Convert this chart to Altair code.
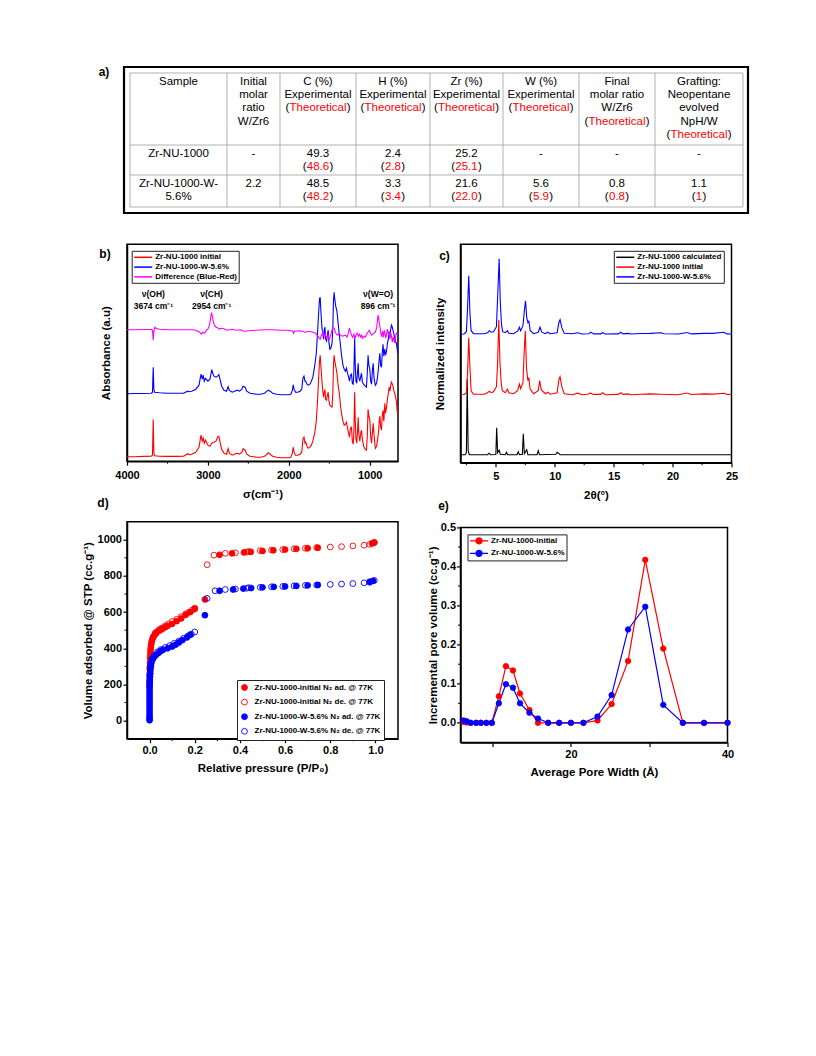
import altair as alt
import pandas as pd

FONT = "Liberation Sans"
RED, BLUE, MAGENTA, BLACK = "#ff0000", "#0000ff", "#ff00ff", "#000000"

# ---------------- (a) table content ----------------
TABLE_HEADER = [
    ["Sample"],
    ["Initial", "molar", "ratio", "W/Zr6"],
    ["C (%)", "Experimental", "(Theoretical)"],
    ["H (%)", "Experimental", "(Theoretical)"],
    ["Zr (%)", "Experimental", "(Theoretical)"],
    ["W (%)", "Experimental", "(Theoretical)"],
    ["Final", "molar ratio", "W/Zr6", "(Theoretical)"],
    ["Grafting:", "Neopentane", "evolved", "NpH/W", "(Theoretical)"],
]
TABLE_ROW1 = [["Zr-NU-1000"], ["-"], ["49.3", "(48.6)"], ["2.4", "(2.8)"], ["25.2", "(25.1)"], ["-"], ["-"], ["-"]]
TABLE_ROW2 = [["Zr-NU-1000-W-", "5.6%"], ["2.2"], ["48.5", "(48.2)"], ["3.3", "(3.4)"], ["21.6", "(22.0)"],
              ["5.6", "(5.9)"], ["0.8", "(0.8)"], ["1.1", "(1)"]]

# ---------------- (b) FTIR ----------------
B_NAMES = ["Zr-NU-1000 initial", "Zr-NU-1000-W-5.6%", "Difference (Blue-Red)"]
B_WN = [4000, 3900, 3800, 3700, 3685, 3676, 3668, 3660, 3600, 3500,
        3400, 3300, 3250, 3230, 3200, 3150, 3110, 3085, 3070, 3058,
        3045, 3030, 3000, 2975, 2960, 2952, 2940, 2925, 2900, 2880,
        2865, 2850, 2830, 2800, 2770, 2750, 2735, 2700, 2670, 2640,
        2610, 2580, 2565, 2540, 2520, 2480, 2440, 2400, 2350, 2300,
        2270, 2255, 2230, 2200, 2150, 2100, 2050, 2000, 1975, 1955,
        1946, 1935, 1917, 1890, 1860, 1840, 1825, 1812, 1800, 1790,
        1775, 1760, 1740, 1720, 1700, 1680, 1660, 1645, 1630, 1620,
        1612, 1603, 1590, 1580, 1570, 1560, 1553, 1545, 1533, 1525,
        1513, 1503, 1492, 1480, 1465, 1455, 1448, 1440, 1432, 1420,
        1405, 1390, 1375, 1360, 1345, 1330, 1315, 1300, 1287, 1275,
        1260, 1250, 1238, 1225, 1215, 1204, 1195, 1186, 1178, 1170,
        1160, 1150, 1142, 1135, 1122, 1110, 1101, 1090, 1075, 1055,
        1040, 1030, 1020, 1010, 998, 988, 977, 965, 957, 945,
        930, 915, 903, 890, 880, 874, 865, 854, 845, 835,
        825, 813, 803, 792, 780, 770, 760, 750, 740, 730,
        720, 710, 700, 690, 681, 670, 660, 653]
B_RED = [4.5, 4.5, 4.8, 5, 6, 41.7, 8, 5.5, 5, 4.8,
         4.8, 5, 7.5, 6.5, 7, 9, 14, 26, 20, 23,
         18, 21, 16, 15, 17, 18, 18.5, 19, 20, 24,
         25, 19, 12, 8, 7, 12.7, 8, 6, 7, 8,
         7, 9, 12.5, 11, 7, 5, 4.5, 4, 4, 5,
         7, 8.5, 7, 5, 4, 3.5, 3.5, 3.5, 4, 8,
         14, 9, 6, 6, 7, 9, 22, 24, 18, 19,
         15, 13, 14, 16, 21, 28, 40, 60, 85, 100,
         106, 95, 80, 70, 64, 70, 71, 62, 61, 65,
         69, 60, 56, 55, 54, 70, 95, 106, 100, 95,
         88, 76, 68, 55, 46, 40, 36, 37, 39, 33,
         28, 24, 33, 34, 20, 17, 30, 69, 40, 22,
         18, 30, 44, 28, 20, 28, 31, 22, 15, 12,
         11, 25, 52, 45, 41, 25, 18, 30, 38, 25,
         13, 15, 21, 30, 42, 45, 35, 31, 45, 51,
         40, 58, 48, 54, 62, 68, 74, 70, 76, 79,
         77, 74, 70, 68, 64, 60, 50, 47]
B_BLUE = [67.5, 67.7, 67.7, 68, 69, 94, 72, 69, 68.5, 68,
          68, 68, 70, 69.5, 70, 72, 76, 87, 82, 86,
          80, 83, 80, 82, 88, 91.5, 88, 85, 84, 85,
          86.5, 82, 75, 71, 70, 74.5, 71, 69, 70, 71,
          70, 72, 75, 74, 70, 68, 67.5, 67, 67, 68,
          70, 71, 70, 68, 67, 66.5, 66.5, 66.5, 67, 71,
          76.5, 72, 69, 69, 70, 72, 83, 85, 80, 80,
          77, 76, 77, 80, 85, 95, 108, 128, 150, 162,
          164, 150, 133, 128, 122, 132, 134, 122, 120, 125,
          131, 118, 112, 113, 118, 135, 160, 169, 162, 155,
          150, 138, 126, 115, 104, 96, 92, 90, 93, 88,
          84, 80, 86, 87, 78, 77, 90, 124, 96, 80,
          78, 90, 98, 84, 80, 85, 88, 79, 77, 75,
          74, 88, 106, 96, 92, 80, 77, 92, 98, 82,
          76, 78, 84, 95, 104, 108, 96, 94, 108, 117,
          105, 112, 106, 110, 118, 122, 128, 124, 132, 136,
          134, 130, 127, 123, 120, 118, 112, 108]
M_WN = [4000, 3900, 3800, 3700, 3685, 3676, 3668, 3655, 3640, 3600,
        3500, 3400, 3300, 3200, 3150, 3100, 3080, 3060, 3040, 3020,
        3000, 2980, 2965, 2954, 2945, 2935, 2920, 2900, 2880, 2860,
        2840, 2800, 2760, 2700, 2650, 2600, 2550, 2500, 2400, 2300,
        2200, 2100, 2000, 1950, 1940, 1930, 1850, 1800, 1750, 1700,
        1670, 1650, 1630, 1612, 1600, 1590, 1580, 1565, 1550, 1530,
        1515, 1500, 1485, 1470, 1455, 1440, 1425, 1410, 1395, 1380,
        1360, 1340, 1320, 1300, 1280, 1265, 1250, 1240, 1225, 1210,
        1195, 1183, 1170, 1155, 1140, 1125, 1110, 1100, 1085, 1070,
        1055, 1040, 1020, 1005, 990, 975, 960, 945, 930, 915,
        905, 896, 888, 880, 870, 860, 850, 840, 830, 820,
        810, 800, 790, 780, 770, 760, 750, 740, 730, 720,
        710, 700, 690, 680, 670, 660, 653]
M_DIFF = [131.5, 131.5, 131.7, 131.7, 131, 121, 130, 134, 133, 132,
          131.5, 131.5, 131.5, 131.5, 131, 129, 127, 129, 128, 131,
          132, 136, 144, 148.5, 145, 140, 136, 134, 133.5, 132,
          133, 132.5, 131, 132, 131, 131.5, 130, 130.5, 131, 131.5,
          131.5, 131, 131, 130, 128, 130, 130.5, 129, 130, 129,
          128, 126, 124, 122, 125, 127, 129, 125, 127, 123,
          126, 122, 125, 130, 133.5, 133, 129, 127, 126, 128,
          126, 125, 125.5, 126, 124, 128, 133, 130, 126, 124,
          127, 123, 126, 128, 125, 127, 124, 126, 123, 125,
          124, 127, 129, 131, 128, 126, 127, 128, 129, 133,
          140, 146, 143, 137, 133, 127, 125, 130, 124, 131,
          127, 123, 128, 132, 127, 130, 122, 128, 125, 119,
          124, 121, 118, 124, 128, 127, 126]
B_ANN_WN = [3674, 2954, 896]
B_ANN_L1 = ["ν(OH)", "ν(CH)", "ν(W=O)"]
B_ANN_L2 = ["3674 cm⁻¹", "2954 cm⁻¹", "896 cm⁻¹"]

# ---------------- (c) XRD ----------------
C_NAMES = ["Zr-NU-1000 calculated", "Zr-NU-1000 initial", "Zr-NU-1000-W-5.6%"]
C_CALC_X = [2.0, 2.4, 2.5, 2.57, 2.65, 2.75, 4.3, 4.42, 4.55, 5.0, 5.07, 5.15, 5.28, 5.38, 5.8, 5.9, 6.0,
            6.8, 6.9, 7.0, 7.25, 7.33, 7.42, 7.62, 7.72, 8.5, 8.6, 8.7, 10.1, 10.2, 10.33, 10.45, 25.0]
C_CALC_Y = [8, 8, 10, 83.5, 12, 8, 8, 9.5, 8, 8.2, 35, 10, 12.5, 8.5, 8, 10.5, 8,
            8, 11, 8, 8.5, 29, 9, 13, 8, 8, 12, 8, 8.5, 10.5, 9.5, 8, 8]
C_INIT_X = [2.0, 2.3, 2.5, 2.6, 2.7, 2.8, 2.9, 3.1, 4.0, 4.3,
            4.45, 4.6, 4.8, 5.05, 5.15, 5.25, 5.35, 5.45, 5.55, 5.8,
            5.98, 6.1, 6.5, 6.85, 7.0, 7.1, 7.3, 7.4, 7.5, 7.6,
            7.72, 7.8, 7.9, 8.2, 8.6, 8.72, 8.85, 9.2, 9.4, 9.6,
            10.2, 10.35, 10.45, 10.6, 10.8, 11.5, 11.95, 12.3, 12.8, 13.0,
            13.3, 13.9, 14.05, 14.3, 15.4, 15.6, 15.8, 16.2, 16.5, 17.3,
            18.1, 19.0, 20.5, 21.1, 21.3, 21.6, 22.7, 23.4, 24.4, 24.6, 25.0]
C_INIT_Y = [68, 68.2, 70, 90, 125, 95, 72, 68.5, 68.5, 70,
            71.5, 70, 71, 76, 100, 143, 100, 80, 72, 70,
            73.5, 70, 69, 72, 78.5, 74, 80, 110, 132, 95,
            82, 85, 74, 69, 72, 82, 73, 69, 70.5, 68.5,
            70, 83, 86, 76, 69, 68, 69.5, 68, 68.5, 69.5,
            68.3, 68.3, 70, 68, 68.3, 70, 68.3, 68.8, 68, 68.5,
            68.8, 68.5, 68, 69.5, 69.5, 68.2, 68.8, 68.6, 69.5, 68.3, 68.2]
C_W_X = [2.0, 2.3, 2.5, 2.6, 2.7, 2.8, 2.9, 3.1, 4.0, 4.3,
         4.45, 4.6, 4.8, 5.05, 5.15, 5.28, 5.38, 5.48, 5.58, 5.8,
         5.98, 6.1, 6.5, 6.85, 7.0, 7.1, 7.3, 7.42, 7.52, 7.62,
         7.72, 7.8, 7.92, 8.2, 8.6, 8.75, 8.9, 9.2, 9.4, 9.6,
         10.2, 10.35, 10.45, 10.6, 10.8, 11.5, 11.95, 12.3, 12.9, 13.05,
         13.3, 13.9, 14.05, 14.3, 15.4, 15.6, 15.8, 16.2, 16.5, 17.3,
         18.1, 19.0, 19.3, 20.5, 21.1, 21.3, 21.6, 22.7, 23.4, 24.35, 24.6, 25.0]
C_W_Y = [128.5, 128.7, 131, 155, 187, 150, 132, 129, 129, 130,
         132, 130.5, 131, 136, 165, 204, 160, 138, 131, 130,
         132, 129.5, 129, 131.5, 135.5, 132, 137, 152, 162, 145,
         140, 141.5, 132, 129, 130.5, 135.5, 130.5, 129, 130.5, 129,
         130, 140, 143, 135, 129.5, 129, 130, 128.7, 129, 130.5,
         128.8, 128.8, 130, 128.7, 128.8, 130.5, 128.8, 129.3, 128.7, 129.2,
         129.3, 130, 129, 128.7, 130, 130, 128.8, 129.3, 129.3, 130.5, 128.8, 128.7]

# ---------------- (d) N2 isotherms ----------------
D_NAMES = ["Zr-NU-1000-initial N₂ ad. @ 77K", "Zr-NU-1000-initial N₂ de. @ 77K",
           "Zr-NU-1000-W-5.6% N₂ ad. @ 77K", "Zr-NU-1000-W-5.6% N₂ de. @ 77K"]
D_IA_P = [0.000, 0.001, 0.001, 0.002, 0.002, 0.003, 0.004, 0.005, 0.006, 0.008,
          0.010, 0.013, 0.016, 0.020, 0.025, 0.030, 0.040, 0.050, 0.060, 0.070,
          0.080, 0.100, 0.120, 0.140, 0.160, 0.180, 0.200, 0.245, 0.310, 0.365,
          0.418, 0.448, 0.500, 0.548, 0.600, 0.650, 0.700, 0.745, 0.985, 0.995]
D_IA_V = [210, 240, 290, 320, 345, 365, 385, 400, 415, 428,
          440, 452, 462, 470, 478, 485, 495, 503, 510, 518,
          524, 535, 550, 565, 585, 600, 618, 670, 917, 925,
          930, 933, 938, 942, 946, 950, 953, 956, 980, 985]
D_ID_P = [0.995, 0.975, 0.950, 0.900, 0.850, 0.800, 0.740, 0.690, 0.640, 0.590,
          0.540, 0.490, 0.440, 0.430, 0.380, 0.335, 0.285, 0.255, 0.200, 0.190,
          0.175, 0.160, 0.140, 0.120, 0.100, 0.085, 0.070, 0.055, 0.045, 0.035,
          0.025, 0.002, 0.001]
D_ID_V = [985, 975, 970, 966, 962, 960, 957, 953, 950, 946,
          943, 940, 935, 932, 928, 925, 915, 862, 622, 612,
          600, 590, 575, 560, 548, 535, 525, 512, 505, 495,
          485, 300, 260]
D_WA_P = [0.000, 0.000, 0.000, 0.000, 0.000, 0.000, 0.000, 0.000, 0.000, 0.000,
          0.000, 0.000, 0.000, 0.000, 0.000, 0.001, 0.001, 0.002, 0.003, 0.003,
          0.004, 0.006, 0.008, 0.012, 0.016, 0.022, 0.030, 0.040, 0.050, 0.060,
          0.080, 0.100, 0.115, 0.130, 0.145, 0.165, 0.180, 0.245, 0.310, 0.370,
          0.415, 0.450, 0.500, 0.550, 0.600, 0.650, 0.700, 0.745, 0.975, 0.990]
D_WA_V = [2, 10, 20, 35, 50, 65, 80, 95, 110, 125,
          140, 155, 170, 185, 200, 215, 230, 245, 260, 275,
          290, 305, 320, 335, 345, 355, 365, 375, 385, 392,
          400, 410, 420, 432, 445, 460, 475, 583, 718, 725,
          730, 733, 737, 740, 742, 745, 748, 750, 768, 773]
D_WD_P = [0.995, 0.975, 0.950, 0.900, 0.850, 0.800, 0.740, 0.690, 0.640, 0.590,
          0.540, 0.490, 0.440, 0.430, 0.380, 0.335, 0.290, 0.255, 0.200, 0.185,
          0.170, 0.150, 0.130, 0.110, 0.090, 0.070, 0.050, 0.035, 0.020, 0.010,
          0.005, 0.003, 0.002, 0.000, 0.000, 0.000]
D_WD_V = [775, 765, 762, 758, 755, 753, 750, 748, 745, 742,
          740, 737, 735, 732, 728, 725, 718, 676, 490, 478,
          468, 455, 440, 428, 415, 405, 393, 380, 360, 340,
          320, 300, 280, 250, 220, 190]

# ---------------- (e) pore size distribution ----------------
E_NAMES = ["Zr-NU-1000-initial", "Zr-NU-1000-W-5.6%"]
E_WIDTH = [6.3, 6.7, 7.2, 7.9, 8.5, 9.2, 9.9, 10.8, 11.7, 12.6, 13.5, 14.7, 15.8,
           17.1, 18.5, 20.0, 21.6, 23.4, 25.2, 27.3, 29.5, 31.8, 34.3, 37.0, 40.0]
E_INIT = [0.002, 0.001, 0.0, 0.0, 0.0, 0.0, 0.0, 0.068, 0.145, 0.134, 0.075, 0.033, 0.0,
          0.0, 0.0, 0.0, 0.0, 0.006, 0.048, 0.158, 0.417, 0.19, 0.0, 0.0, 0.0]
E_W56 = [0.006, 0.004, 0.0, 0.0, 0.0, 0.0, 0.0, 0.05, 0.099, 0.09, 0.05, 0.026, 0.011,
         0.0, 0.0, 0.0, 0.0, 0.016, 0.071, 0.239, 0.297, 0.046, 0.0, 0.0, 0.0]


def series_df(xs, ys, name):
    return pd.DataFrame([{"x": a, "y": b, "s": name} for a, b in zip(xs, ys)])


def anchor(x, y):
    # white (invisible on the white page) element that fixes a panel's layout bounds
    return alt.Chart(pd.DataFrame({"k": [0]})).mark_rule(color="white", strokeWidth=1).encode(
        x=alt.value(x), x2=alt.value(x + 1), y=alt.value(y), y2=alt.value(y))


def panel_label(txt, x, y):
    return alt.Chart(pd.DataFrame({"t": [txt]})).mark_text(
        fontSize=12, fontWeight="bold", font=FONT, color="black").encode(
        x=alt.value(x), y=alt.value(y), text="t:N")


def minor_x(values, X, h):
    return alt.Chart(pd.DataFrame({"x": values})).mark_rule(color="black", strokeWidth=1).encode(
        x=X, y=alt.value(h), y2=alt.value(h + 2.5))


def minor_y(values, Y):
    return alt.Chart(pd.DataFrame({"y": values})).mark_rule(color="black", strokeWidth=1).encode(
        y=Y, x=alt.value(0), x2=alt.value(-2.5))


def line_legend(x, y, size=8):
    return alt.Legend(title=None, orient="none", legendX=x, legendY=y,
                      symbolType="M-1,0L3.5,0", symbolSize=64, symbolStrokeWidth=1.5,
                      labelFont=FONT, labelFontSize=size, labelFontWeight="bold", labelColor="black",
                      labelOffset=12, padding=1.5, rowPadding=0.8,
                      fillColor="white", strokeColor="#222222")


# ================= (a) table chart =================
T_W, T_H = 624, 146
T_SHIFT = 3          # table frame starts 3 px left of the plot column below it
T_COLS = [6, 103, 156, 232, 306, 379, 455, 531, 619]
T_ROWS = [6, 78, 108, 140]
T_LINE_GAP = 13.4
T_FIRST = 8.6
T_FONT_SIZE = 11.5
# advance widths of Liberation Sans (per 1000 em) used to place the black brackets
GLYPH_W = {"T": 611, "h": 556, "e": 556, "o": 556, "r": 333, "t": 278, "i": 222,
           "c": 500, "a": 556, "l": 222, ".": 278}


def text_width(s):
    return sum(GLYPH_W.get(ch, 556) for ch in s) * T_FONT_SIZE / 1000.0


black_txt, red_txt, lpar, rpar = [], [], [], []
for r, row in enumerate([TABLE_HEADER, TABLE_ROW1, TABLE_ROW2]):
    for c, cell in enumerate(row):
        cx = (T_COLS[c] + T_COLS[c + 1]) / 2
        for i, line in enumerate(cell):
            cy = T_ROWS[r] + T_FIRST + i * T_LINE_GAP
            if line.startswith("(") and line.endswith(")") and len(line) > 2:
                inner = line[1:-1]
                half = text_width(inner) / 2
                red_txt.append({"x": cx, "y": cy, "t": inner})
                lpar.append({"x": cx - half - 0.3, "y": cy, "t": "("})
                rpar.append({"x": cx + half + 0.3, "y": cy, "t": ")"})
            else:
                black_txt.append({"x": cx, "y": cy, "t": line})

grid = ([{"x": v, "x2": v, "y": T_ROWS[0], "y2": T_ROWS[-1]} for v in T_COLS] +
        [{"x": T_COLS[0], "x2": T_COLS[-1], "y": v, "y2": v} for v in T_ROWS])

TX = alt.X("x:Q", scale=alt.Scale(domain=[T_SHIFT, T_W + T_SHIFT], nice=False, zero=False), axis=None)
TY = alt.Y("y:Q", scale=alt.Scale(domain=[0, T_H], reverse=True, nice=False, zero=False), axis=None)


def table_text(rows, color, align):
    return alt.Chart(pd.DataFrame(rows)).mark_text(
        font=FONT, fontSize=T_FONT_SIZE, color=color, baseline="middle", align=align).encode(
        x=TX, y=TY, text="t:N")


t_grid = alt.Chart(pd.DataFrame(grid)).mark_rule(color="#a8a8a8", strokeWidth=0.9).encode(
    x=TX, x2="x2:Q", y=TY, y2="y2:Q")
t_border = alt.Chart(pd.DataFrame([{"x": 0, "x2": T_W, "y": 0, "y2": T_H}])).mark_rect(
    fillOpacity=0, stroke="black", strokeWidth=2.2).encode(
    x=TX, x2="x2:Q", y=TY, y2="y2:Q")

table = alt.layer(
    t_grid, t_border,
    table_text(black_txt, "black", "center"),
    table_text(red_txt, RED, "center"),
    table_text(lpar, "black", "right"),
    table_text(rpar, "black", "left"),
    panel_label("a)", -23, 4.7), anchor(-45, -2)
).properties(width=T_W, height=T_H, view=alt.ViewBackground(stroke="transparent", strokeWidth=0))

# ================= (b) FTIR =================
B_W, B_H = 271, 217
BX = alt.X("x:Q", scale=alt.Scale(domain=[650, 4000], reverse=True, nice=False, zero=False),
           axis=alt.Axis(values=[1000, 2000, 3000, 4000], format="d", title="σ(cm⁻¹)",
                         labelFlush=False, labelOverlap=False, labelPadding=4, titlePadding=8))
BY = alt.Y("y:Q", scale=alt.Scale(domain=[0, B_H], nice=False, zero=False),
           axis=alt.Axis(title="Absorbance (a.u)", labels=False, ticks=False, titlePadding=16))
B_SCALE = alt.Scale(domain=B_NAMES, range=[RED, BLUE, MAGENTA])
leg_b = line_legend(4.7, 6.6)


def b_line(df):
    return alt.Chart(df).mark_line(strokeWidth=1.1).encode(
        x=BX, y=BY, color=alt.Color("s:N", scale=B_SCALE, legend=leg_b))


ann_df = pd.DataFrame({"x": B_ANN_WN, "l1": B_ANN_L1, "l2": B_ANN_L2})
b_ann1 = alt.Chart(ann_df).mark_text(font=FONT, fontSize=8.5, fontWeight="bold", color="black").encode(
    x=BX, y=alt.value(50), text="l1:N")
b_ann2 = alt.Chart(ann_df).mark_text(font=FONT, fontSize=8.5, fontWeight="bold", color="black").encode(
    x=BX, y=alt.value(61.6), text="l2:N")

panel_b = alt.layer(
    b_line(series_df(B_WN, B_RED, B_NAMES[0])),
    b_line(series_df(B_WN, B_BLUE, B_NAMES[1])),
    b_line(series_df(M_WN, M_DIFF, B_NAMES[2])),
    b_ann1, b_ann2,
    minor_x([1500, 2500, 3500], BX, B_H),
    panel_label("b)", -22, 10),
    anchor(-52, 0),
).properties(width=B_W, height=B_H)

# ================= (c) XRD =================
C_W, C_H = 271, 218.5
CX = alt.X("x:Q", scale=alt.Scale(domain=[2, 25], nice=False, zero=False),
           axis=alt.Axis(values=[5, 10, 15, 20, 25], format="d", title="2θ(°)",
                         labelFlush=False, labelOverlap=False, labelPadding=4, titlePadding=8))
CY = alt.Y("y:Q", scale=alt.Scale(domain=[0, C_H], nice=False, zero=False),
           axis=alt.Axis(title="Normalized intensity", labels=False, ticks=False, titlePadding=15))
C_SCALE = alt.Scale(domain=C_NAMES, range=[BLACK, RED, BLUE])
leg_c = line_legend(153.3, 6.6)


def c_line(df):
    return alt.Chart(df).mark_line(strokeWidth=1.1).encode(
        x=CX, y=CY, color=alt.Color("s:N", scale=C_SCALE, legend=leg_c))


panel_c = alt.layer(
    c_line(series_df(C_CALC_X, C_CALC_Y, C_NAMES[0])),
    c_line(series_df(C_INIT_X, C_INIT_Y, C_NAMES[1])),
    c_line(series_df(C_W_X, C_W_Y, C_NAMES[2])),
    minor_x([2.5, 7.5, 12.5, 17.5, 22.5], CX, C_H),
    panel_label("c)", -16, 11.6),
    anchor(-36, 0),
).properties(width=C_W, height=C_H)

# ================= (d) isotherms =================
D_W, D_H = 271, 217
DX = alt.X("x:Q", scale=alt.Scale(domain=[-0.1, 1.1], nice=False, zero=False),
           axis=alt.Axis(values=[0.0, 0.2, 0.4, 0.6, 0.8, 1.0], format=".1f", title="Relative pressure (P/P₀)",
                         labelFlush=False, labelOverlap=False, labelPadding=2, titlePadding=7))
DY = alt.Y("y:Q", scale=alt.Scale(domain=[-100, 1100], nice=False, zero=False),
           axis=alt.Axis(values=[0, 200, 400, 600, 800, 1000], format="d",
                         title="Volume adsorbed @ STP (cc.g⁻¹)",
                         labelFlush=False, labelOverlap=False, labelPadding=1.5, titlePadding=4))
leg_d = alt.Legend(title=None, orient="none", legendX=110, legendY=158.3, symbolType="circle",
                   symbolSize=34, symbolStrokeWidth=0.9, labelFont=FONT, labelFontSize=8,
                   labelFontWeight="bold", labelColor="black", labelOffset=6, padding=3.5,
                   rowPadding=4.6, fillColor="white", strokeColor="#222222")
d_df = pd.concat([series_df(D_IA_P, D_IA_V, D_NAMES[0]), series_df(D_ID_P, D_ID_V, D_NAMES[1]),
                  series_df(D_WA_P, D_WA_V, D_NAMES[2]), series_df(D_WD_P, D_WD_V, D_NAMES[3])],
                 ignore_index=True)
d_pts = alt.Chart(d_df).mark_point(filled=True, size=34, strokeWidth=0.9, opacity=1).encode(
    x=DX, y=DY,
    fill=alt.Fill("s:N", scale=alt.Scale(domain=D_NAMES, range=[RED, "transparent", BLUE, "transparent"]),
                  legend=leg_d),
    stroke=alt.Stroke("s:N", scale=alt.Scale(domain=D_NAMES, range=[RED, RED, BLUE, BLUE]), legend=leg_d))

panel_d = alt.layer(
    d_pts,
    minor_x([0.1, 0.3, 0.5, 0.7, 0.9], DX, D_H),
    minor_y([100, 300, 500, 700, 900], DY),
    panel_label("d)", -24, -19),
).properties(width=D_W, height=D_H)

# ================= (e) pore size distribution =================
E_W, E_H = 267, 215
EX = alt.X("x:Q", scale=alt.Scale(domain=[5.9, 40], nice=False, zero=False),
           axis=alt.Axis(values=[10, 20, 30, 40], format="d",
                         labelExpr="datum.value % 20 === 0 ? datum.label : ''",
                         title="Average Pore Width (Å)",
                         labelFlush=False, labelOverlap=False, labelPadding=2, titlePadding=7))
EY = alt.Y("y:Q", scale=alt.Scale(domain=[-0.05, 0.5], nice=False, zero=False),
           axis=alt.Axis(values=[0.0, 0.1, 0.2, 0.3, 0.4, 0.5], format=".1f",
                         title="Incremental pore volume (cc.g⁻¹)",
                         labelFlush=False, labelOverlap=False, labelPadding=1, titlePadding=2))
leg_e = alt.Legend(title=None, orient="none", legendX=7, legendY=7,
                   symbolType="M-1,0L3.5,0M2,0A0.75,0.75,0,1,1,0.5,0A0.75,0.75,0,1,1,2,0",
                   symbolSize=64, symbolStrokeWidth=1.2, labelFont=FONT, labelFontSize=8,
                   labelFontWeight="bold", labelColor="black", labelOffset=12, padding=1.5,
                   rowPadding=0.5, fillColor="white", strokeColor="#222222")
E_STROKE = alt.Scale(domain=E_NAMES, range=[RED, BLUE])
E_FILL = alt.Scale(domain=E_NAMES, range=[RED, BLUE])
e_df = pd.concat([series_df(E_WIDTH, E_INIT, E_NAMES[0]), series_df(E_WIDTH, E_W56, E_NAMES[1])],
                 ignore_index=True)
e_lines = alt.Chart(e_df).mark_line(strokeWidth=1.2).encode(
    x=EX, y=EY, stroke=alt.Stroke("s:N", scale=E_STROKE, legend=leg_e))
e_pts = alt.Chart(e_df).mark_point(filled=True, size=30, strokeWidth=0.8, opacity=1).encode(
    x=EX, y=EY,
    fill=alt.Fill("s:N", scale=E_FILL, legend=leg_e),
    stroke=alt.Stroke("s:N", scale=E_STROKE, legend=leg_e))

panel_e = alt.layer(
    e_lines, e_pts,
    minor_y([0.05, 0.15, 0.25, 0.35, 0.45], EY),
    panel_label("e)", -17, -21),
).properties(width=E_W, height=E_H)

# ================= layout =================
RES = dict(color="independent", fill="independent", stroke="independent")
col1 = alt.vconcat(panel_b, panel_d, spacing=60.5, bounds="flush").resolve_scale(**RES)
col2 = alt.vconcat(panel_c, panel_e, spacing=64.2, bounds="flush").resolve_scale(**RES)
plots = alt.hconcat(col1, col2, spacing=21.5).resolve_scale(**RES)
chart = alt.vconcat(table, plots, spacing=27.2).resolve_scale(**RES).properties(
    padding={"left": 65, "top": 56, "right": 5, "bottom": 5}, background="white"
).configure(font=FONT).configure_view(stroke="black", strokeWidth=1.5).configure_axis(
    domainColor="black", domainWidth=1.5, tickColor="black", tickWidth=1.2, tickSize=4,
    labelFont=FONT, labelFontSize=11, labelFontWeight="bold", labelColor="black",
    titleFont=FONT, titleFontSize=11.5, titleFontWeight="bold", titleColor="black", grid=False)

chart.save("out.html", embed_options={"renderer": "svg", "actions": False})
